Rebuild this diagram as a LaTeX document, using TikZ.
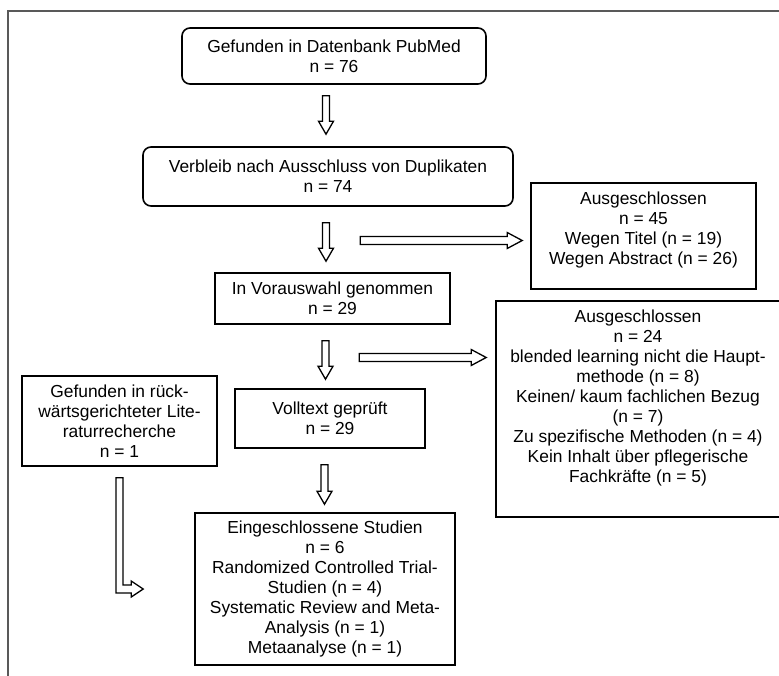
\documentclass[tikz,border=0pt]{standalone}
\usepackage{fontspec}
\setmainfont{Liberation Sans}
\usetikzlibrary{calc}
\tikzset{
  box/.style={draw=black, line width=1.6pt, align=center, inner sep=0pt,
    font=\fontsize{17.4}{20}\selectfont},
  rbox/.style={box, rounded corners=8pt},
  blk/.style={draw=black, line width=1.3pt, fill=white, line join=miter},
  frameline/.style={draw=black!65, line width=1.5pt}
}
\newcommand\vblockarrow[2]{%
  \draw[blk] let \p1=(#1), \p2=(#2) in
    (\x1-3.5pt,\y1) -- (\x1+3.5pt,\y1) -- (\x1+3.5pt,\y2+13pt) -- (\x1+7.5pt,\y2+13pt)
    -- (\x1,\y2) -- (\x1-7.5pt,\y2+13pt) -- (\x1-3.5pt,\y2+13pt) -- cycle;}
\newcommand\hblockarrow[2]{%
  \draw[blk] let \p1=(#1), \p2=(#2) in
    (\x1,\y1+4pt) -- (\x2-15pt,\y1+4pt) -- (\x2-15pt,\y1+8pt) -- (\x2,\y1)
    -- (\x2-15pt,\y1-8pt) -- (\x2-15pt,\y1-4pt) -- (\x1,\y1-4pt) -- cycle;}
\newcommand\lblockarrow[2]{%
  \draw[blk] let \p1=(#1), \p2=(#2) in
    (\x1-3.5pt,\y1) -- (\x1+3.5pt,\y1) -- (\x1+3.5pt,\y2+4pt) -- (\x2-12pt,\y2+4pt)
    -- (\x2-12pt,\y2+8pt) -- (\x2,\y2) -- (\x2-12pt,\y2-8pt) -- (\x2-12pt,\y2-4pt)
    -- (\x1-3.5pt,\y2-4pt) -- cycle;}
\begin{document}
\begin{tikzpicture}[x=1pt,y=-1pt]
\useasboundingbox (0,0) rectangle (779,675);
\clip (0,0) rectangle (779,675);
\fill[white] (0,0) rectangle (779,675);
% outer frame (cropped)
\draw[frameline] (8,690) -- (8,11) -- (800,11);

\node[rbox, minimum width=304pt, minimum height=56pt] (b1) at (334,56)
  {Gefunden in Datenbank PubMed\\n = 76};
\node[rbox, minimum width=370pt, minimum height=59pt] (b2) at (328,176.5)
  {Verbleib nach Ausschluss von Duplikaten\\n = 74};
\node[box, minimum width=235pt, minimum height=51pt] (b3) at (332.5,298.5)
  {In Vorauswahl genommen\\n = 29};
\node[box, minimum width=190pt, minimum height=59pt] (b4) at (330,418.5)
  {Volltext geprüft\\n = 29};
\node[box, minimum width=260pt, minimum height=152pt] (b5) at (325,589)
  {Eingeschlossene Studien\\n = 6\\Randomized Controlled Trial-\\Studien (n = 4)\\Systematic Review and Meta-\\Analysis (n = 1)\\Metaanalyse (n = 1)};
\node[box, minimum width=195pt, minimum height=90pt] (lft) at (119.5,421)
  {Gefunden in rück-\\wärtsgerichteter Lite-\\raturrecherche\\n = 1};
\node[box, minimum width=225pt, minimum height=106pt] (e1) at (643.5,236)
  {\parbox{220pt}{\centering Ausgeschlossen\\n = 45\\Wegen Titel (n = 19)\\Wegen Abstract (n = 26)\par\vspace{12pt}}};
\node[box, minimum width=284pt, minimum height=216pt] (e2) at (638,409)
  {\parbox{280pt}{\centering Ausgeschlossen\\n = 24\\blended learning nicht die Haupt-\\methode (n = 8)\\Keinen/ kaum fachlichen Bezug\\(n = 7)\\Zu spezifische Methoden (n = 4)\\Kein Inhalt über pflegerische\\Fachkräfte (n = 5)\par\vspace{22pt}}};

% connector end points
\coordinate (a1s) at ($(b1.south)+(-8,11)$);
\coordinate (a1e) at ($(b2.north)+(-2,-12)$);
\coordinate (a2s) at ($(b2.south)+(-2,16)$);
\coordinate (a2e) at ($(b3.north)+(-6.5,-11)$);
\coordinate (a3s) at ($(b3.south)+(-7,16)$);
\coordinate (a3e) at ($(b4.north)+(-4.5,-9)$);
\coordinate (a4s) at ($(b4.south)+(-5.5,16)$);
\coordinate (a4e) at ($(b5.north)+(-0.5,-8)$);
\coordinate (h1s) at ($(e1.west)+(-170,4.5)$);
\coordinate (h1e) at ($(e1.west)+(-8,4.5)$);
\coordinate (h2s) at ($(e2.west)+(-136,-51.5)$);
\coordinate (h2e) at ($(e2.west)+(-9,-51.5)$);
\coordinate (ls) at ($(lft.south)+(0,11)$);
\coordinate (le) at ($(b5.west)+(-51,0)$);

\vblockarrow{a1s}{a1e}
\vblockarrow{a2s}{a2e}
\vblockarrow{a3s}{a3e}
\vblockarrow{a4s}{a4e}
\hblockarrow{h1s}{h1e}
\hblockarrow{h2s}{h2e}
\lblockarrow{ls}{le}
\end{tikzpicture}
\end{document}
